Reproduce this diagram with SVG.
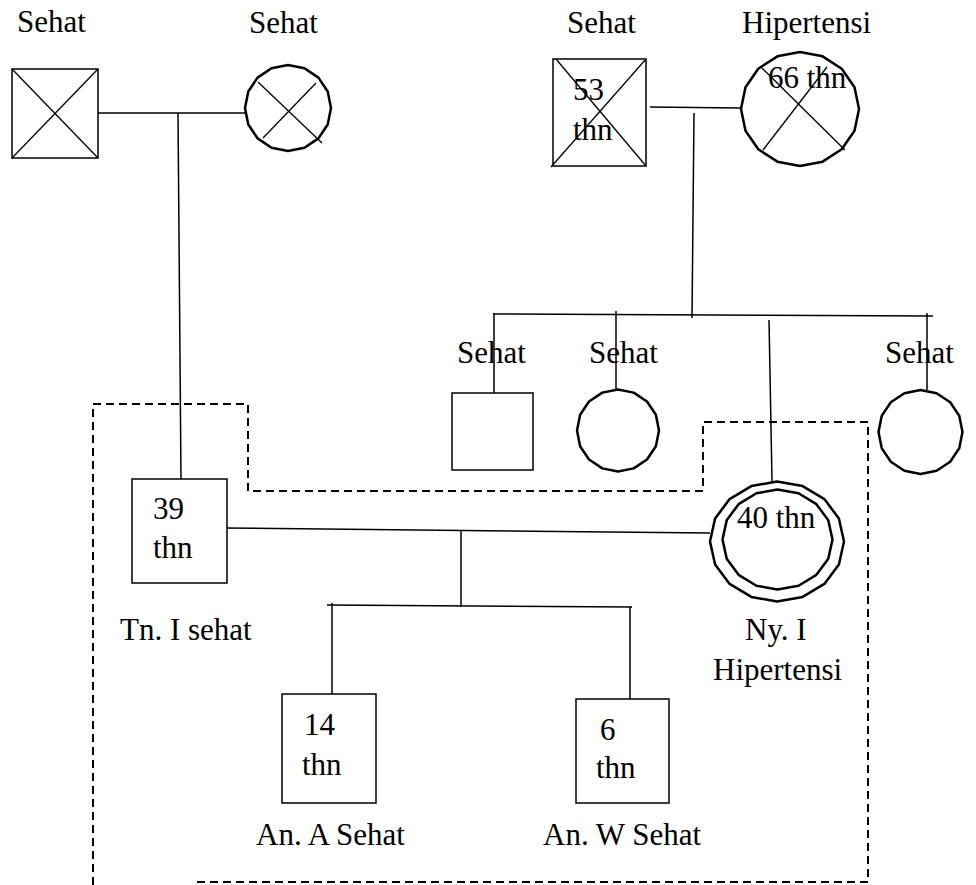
<svg xmlns="http://www.w3.org/2000/svg" width="976" height="885" viewBox="0 0 976 885">
<style>
text{font-family:"Liberation Serif","DejaVu Serif",serif;font-size:31px;fill:#000}
.sq{fill:#fff;stroke:#000;stroke-width:1.5}
.ci{fill:#fff;stroke:#000;stroke-width:2.5;stroke-linejoin:round}
.x{stroke:#000;stroke-width:1.3;fill:none}
.ln{stroke:#000;stroke-width:1.5;fill:none}
.dash{stroke:#000;stroke-width:2;fill:none;stroke-dasharray:8,5}
</style>
<rect width="976" height="885" fill="#fff"/>
<g id="connectors">
<line class="ln" x1="94" y1="113" x2="251" y2="113"/>
<line class="ln" x1="178" y1="113" x2="181" y2="480"/>
<line class="ln" x1="650" y1="107" x2="740" y2="108"/>
<line class="ln" x1="694" y1="113" x2="692" y2="318"/>
<line class="ln" x1="493" y1="314" x2="933" y2="316"/>
<line class="ln" x1="494" y1="313" x2="494" y2="394"/>
<line class="ln" x1="616" y1="311" x2="616" y2="390"/>
<line class="ln" x1="769" y1="320" x2="772" y2="481"/>
<line class="ln" x1="927" y1="313" x2="927" y2="390"/>
<line class="ln" x1="223" y1="528" x2="710" y2="533"/>
<line class="ln" x1="461" y1="530" x2="461" y2="607"/>
<line class="ln" x1="327" y1="605" x2="632" y2="607"/>
<line class="ln" x1="332" y1="603" x2="332" y2="694"/>
<line class="ln" x1="630" y1="607" x2="630" y2="699"/>
</g>
<g id="boundary">
<polyline class="dash" points="93,885 93,404 248,404 248,491 703,491 703,422 868,422 868,882 197,882"/>
</g>
<g id="gf-paternal">
<rect class="sq" x="12" y="69" width="86" height="89"/>
<line class="x" x1="12" y1="69" x2="98" y2="158"/>
<line class="x" x1="98" y1="69" x2="12" y2="158"/>
<text x="17" y="32">Sehat</text>
</g>
<g id="gm-paternal">
<polygon class="ci" points="331,108 327.73,124.46 318.41,138.41 304.46,147.73 288,151 271.54,147.73 257.59,138.41 248.27,124.46 245,108 248.27,91.54 257.59,77.59 271.54,68.27 288,65 304.46,68.27 318.41,77.59 327.73,91.54"/>
<line class="x" x1="258" y1="82" x2="322" y2="143"/>
<line class="x" x1="316" y1="83" x2="263" y2="138"/>
<text x="249" y="33">Sehat</text>
</g>
<g id="gf-maternal">
<rect class="sq" x="553" y="59" width="93" height="107"/>
<line class="x" x1="556" y1="59" x2="646" y2="166"/>
<line class="x" x1="646" y1="59" x2="551" y2="167"/>
<text x="567" y="33">Sehat</text>
<text x="573" y="100">53</text>
<text x="573" y="140">thn</text>
</g>
<g id="gm-maternal">
<polygon class="ci" points="859,109 854.51,130.81 841.72,149.3 822.58,161.66 800,166 777.42,161.66 758.28,149.3 745.49,130.81 741,109 745.49,87.19 758.28,68.7 777.42,56.34 800,52 822.58,56.34 841.72,68.7 854.51,87.19"/>
<line class="x" x1="762" y1="68" x2="845" y2="150"/>
<line class="x" x1="827" y1="67" x2="763" y2="150"/>
<text x="742" y="33">Hipertensi</text>
<text x="768" y="88">66 thn</text>
</g>
<g id="uncle">
<rect class="sq" x="452" y="393" width="81" height="77"/>
<text x="457" y="363">Sehat</text>
</g>
<g id="aunt1">
<polygon class="ci" points="659,430.5 655.88,446.19 646.99,459.49 633.69,468.38 618,471.5 602.31,468.38 589.01,459.49 580.12,446.19 577,430.5 580.12,414.81 589.01,401.51 602.31,392.62 618,389.5 633.69,392.62 646.99,401.51 655.88,414.81"/>
<text x="589" y="363">Sehat</text>
</g>
<g id="aunt2">
<polygon class="ci" points="962.5,432 959.3,448.07 950.2,461.7 936.57,470.8 920.5,474 904.43,470.8 890.8,461.7 881.7,448.07 878.5,432 881.7,415.93 890.8,402.3 904.43,393.2 920.5,390 936.57,393.2 950.2,402.3 959.3,415.93"/>
<text x="885" y="363">Sehat</text>
</g>
<g id="tn-i">
<rect class="sq" x="132" y="479" width="95" height="104"/>
<text x="153" y="519">39</text>
<text x="153" y="558">thn</text>
<text x="120" y="640">Tn. I sehat</text>
</g>
<g id="ny-i">
<polygon class="ci" points="844,541.5 838.9,564.46 824.38,583.93 802.64,596.93 777,601.5 751.36,596.93 729.62,583.93 715.1,564.46 710,541.5 715.1,518.54 729.62,499.07 751.36,486.07 777,481.5 802.64,486.07 824.38,499.07 838.9,518.54"/>
<polygon class="ci" points="832.5,539.5 828.31,558.64 816.39,574.86 798.55,585.7 777.5,589.5 756.45,585.7 738.61,574.86 726.69,558.64 722.5,539.5 726.69,520.36 738.61,504.14 756.45,493.3 777.5,489.5 798.55,493.3 816.39,504.14 828.31,520.36"/>
<text x="737" y="528">40 thn</text>
<text x="745" y="640">Ny. I</text>
<text x="713" y="680">Hipertensi</text>
</g>
<g id="an-a">
<rect class="sq" x="282" y="694" width="94" height="109"/>
<text x="304" y="735">14</text>
<text x="302" y="775">thn</text>
<text x="256" y="845">An. A Sehat</text>
</g>
<g id="an-w">
<rect class="sq" x="576" y="699" width="93" height="104"/>
<text x="600" y="740">6</text>
<text x="596" y="778">thn</text>
<text x="543" y="845">An. W Sehat</text>
</g>
</svg>
